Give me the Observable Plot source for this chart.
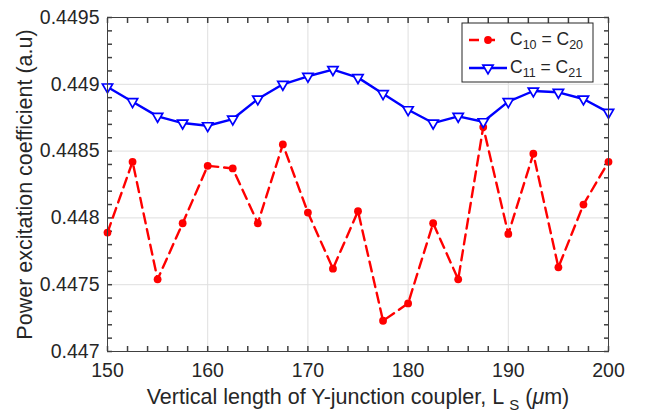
<!DOCTYPE html>
<html>
<head>
<meta charset="utf-8">
<script src="https://cdn.jsdelivr.net/npm/d3@7"></script>
<script src="https://cdn.jsdelivr.net/npm/@observablehq/plot@0.6"></script>
<style>
  html, body { margin: 0; padding: 0; background: #fff; }
  #chart { width: 646px; height: 412px; }
</style>
</head>
<body>
<div id="chart"></div>
<script>
// ---- data ----
const lengthsUm = [150, 152.5, 155, 157.5, 160, 162.5, 165, 167.5, 170, 172.5, 175,
                   177.5, 180, 182.5, 185, 187.5, 190, 192.5, 195, 197.5, 200];
const c10 = [0.44789, 0.44842, 0.44754, 0.44796, 0.44839, 0.44837, 0.44796, 0.44855, 0.44804, 0.44762, 0.44805,
             0.44723, 0.44736, 0.44796, 0.44754, 0.44868, 0.44788, 0.44848, 0.44763, 0.44810, 0.44842];
const c11 = [0.44898, 0.44887, 0.44876, 0.44871, 0.44869, 0.44874, 0.44889, 0.44900, 0.44906, 0.44911, 0.44905,
             0.44893, 0.44881, 0.44871, 0.44876, 0.44872, 0.44887, 0.44895, 0.44894, 0.44889, 0.44879];
const xTicks = [150, 160, 170, 180, 190, 200];
const xTickLabels = ["150", "160", "170", "180", "190", "200"];
const yTicks = [0.447, 0.4475, 0.448, 0.4485, 0.449, 0.4495];
const yTickLabels = ["0.447", "0.4475", "0.448", "0.4485", "0.449", "0.4495"];
const xMinorTicks = d3.range(0, 26).map(i => 150 + 2 * i);
const yMinorTicks = d3.range(0, 26).map(i => (4470 + i) / 10000);
const seriesNames = ["C10 = C20", "C11 = C21"];
const xLabel = "Vertical length of Y-junction coupler, L S (μm)";
const yLabel = "Power excitation coefficient (a.u)";

const data = lengthsUm.map((x, i) => ({x, c10: c10[i], c11: c11[i]}));

const FONT = "'Liberation Sans', Arial, Helvetica, sans-serif";
const RED = "#ff0000", BLUE = "#0000ff", AXIS = "#404040", GRID = "#dfdfdf";

const plot = Plot.plot({
  width: 646,
  height: 412,
  marginLeft: 107,
  marginRight: 38,
  marginTop: 17,
  marginBottom: 61,
  x: {domain: [150, 200]},
  y: {domain: [0.447, 0.4495]},
  style: {fontFamily: FONT, fontSize: "19.5px", color: "#262626", background: "#fff"},
  marks: [
    Plot.gridX({ticks: xTicks, stroke: GRID, strokeOpacity: 1}),
    Plot.gridY({ticks: yTicks, stroke: GRID, strokeOpacity: 1}),
    // inward ticks on all four sides (axis ticks shifted inside the frame)
    Plot.axisX({anchor: "bottom", ticks: xMinorTicks, tickSize: 5, dy: -5, fill: "none", stroke: AXIS, strokeWidth: 1.5, label: null}),
    Plot.axisX({anchor: "top", ticks: xMinorTicks, tickSize: 5, dy: 5, fill: "none", stroke: AXIS, strokeWidth: 1.5, label: null}),
    Plot.axisY({anchor: "left", ticks: yMinorTicks, tickSize: 5, dx: 5, fill: "none", stroke: AXIS, strokeWidth: 1.5, label: null}),
    Plot.axisY({anchor: "right", ticks: yMinorTicks, tickSize: 5, dx: -5, fill: "none", stroke: AXIS, strokeWidth: 1.5, label: null}),
    // tick labels
    Plot.axisX({ticks: xTicks, tickSize: 0, tickPadding: 12, label: null,
                tickFormat: d => xTickLabels[xTicks.indexOf(d)]}),
    Plot.axisY({ticks: yTicks, tickSize: 0, tickPadding: 8, label: null,
                tickFormat: d => yTickLabels[yTicks.findIndex(t => Math.abs(t - d) < 1e-9)]}),
    // series
    Plot.line(data, {x: "x", y: "c10", stroke: RED, strokeWidth: 2.4, strokeDasharray: "10,6"}),
    Plot.dot(data, {x: "x", y: "c10", fill: RED, r: 3.9}),
    Plot.line(data, {x: "x", y: "c11", stroke: BLUE, strokeWidth: 2.4}),
    Plot.dot(data, {x: "x", y: "c11", symbol: "triangle", rotate: 180, r: 3.8,
                    stroke: BLUE, strokeWidth: 1.7, fill: "#fff"}),
    Plot.frame({stroke: AXIS, strokeWidth: 1}),
    // axis titles
    Plot.text([xLabel], {text: d => d, frameAnchor: "bottom", dy: 46, textAnchor: "middle",
                         lineAnchor: "middle", fontSize: 21.5, fill: "#262626"}),
    Plot.text([yLabel], {text: d => d, frameAnchor: "left", rotate: -90, dx: -82, textAnchor: "middle",
                         lineAnchor: "middle", fontSize: 21.5, fill: "#262626"})
  ]
});

const svg = d3.select(plot);

// x label with subscript S and μ
svg.selectAll("text").filter(function() { return this.textContent === xLabel; }).each(function() {
  const t = d3.select(this);
  t.text(null);
  t.append("tspan").text("Vertical length of Y-junction coupler, L ");
  t.append("tspan").attr("dy", 6).attr("font-size", 15).text("S");
  t.append("tspan").attr("dy", -6).text(" (");
  t.append("tspan").attr("font-style", "italic").text("μ");
  t.append("tspan").text("m)");
});

// legend (inside the plot frame, top-right)
const xr = plot.scale("x").range, yr = plot.scale("y").range;
const legRight = Math.max(...xr) - 15, legTop = Math.min(...yr) + 6;
const boxW = 131, boxH = 59;
const legLeft = legRight - boxW;
const lg = svg.append("g").attr("font-family", FONT).attr("text-anchor", "start");
lg.append("rect").attr("x", legLeft).attr("y", legTop).attr("width", boxW).attr("height", boxH)
  .attr("fill", "#fff").attr("stroke", "#262626").attr("stroke-width", 1);
const rows = [
  {name: seriesNames[0], color: RED, dash: "10,6", marker: "circle", main: ["C", "10", " = C", "20"]},
  {name: seriesNames[1], color: BLUE, dash: null, marker: "triangle", main: ["C", "11", " = C", "21"]}
];
rows.forEach((row, i) => {
  const cy = legTop + 17 + i * 28;
  const l = lg.append("line").attr("x1", legLeft + 7).attr("x2", legLeft + (row.dash ? 39 : 45))
    .attr("y1", cy).attr("y2", cy).attr("stroke", row.color).attr("stroke-width", 2.4);
  if (row.dash) l.attr("stroke-dasharray", row.dash);
  const mx = legLeft + 26;
  if (row.marker === "circle") {
    lg.append("circle").attr("cx", mx).attr("cy", cy).attr("r", 3.9).attr("fill", row.color);
  } else {
    lg.append("path").attr("d", d3.symbol(d3.symbolTriangle, Math.PI * 3.8 * 3.8)())
      .attr("transform", `translate(${mx},${cy}) rotate(180)`)
      .attr("fill", "#fff").attr("stroke", row.color).attr("stroke-width", 1.7);
  }
  const t = lg.append("text").attr("x", legLeft + 48).attr("y", cy + 4.5)
    .attr("font-size", 17.5).attr("fill", "#262626").attr("text-anchor", "start");
  t.append("tspan").text(row.main[0]);
  t.append("tspan").attr("dy", 4.7).attr("font-size", 12.5).text(row.main[1]);
  t.append("tspan").attr("dy", -4.7).text(row.main[2]);
  t.append("tspan").attr("dy", 4.7).attr("font-size", 12.5).text(row.main[3]);
});

document.getElementById("chart").appendChild(plot);
</script>
</body>
</html>
